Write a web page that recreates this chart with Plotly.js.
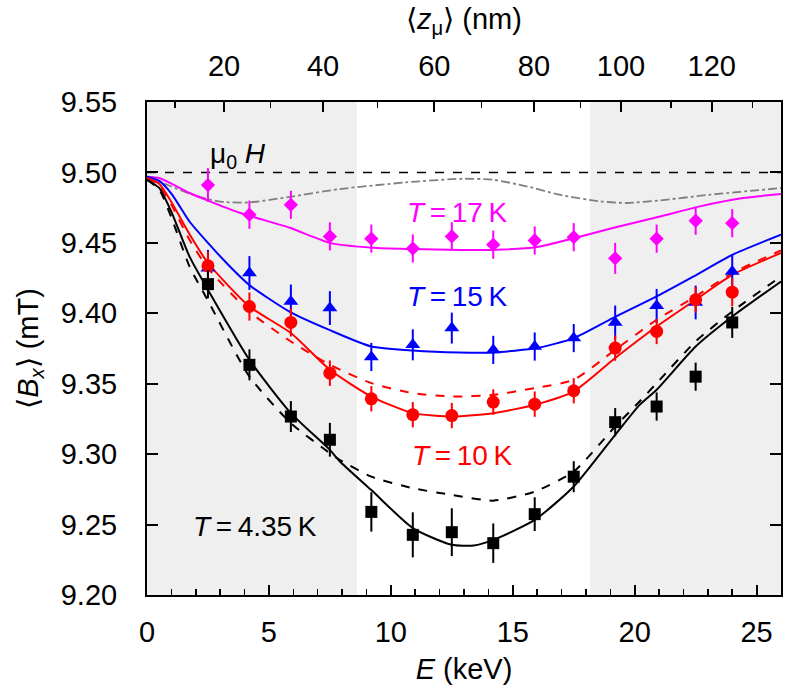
<!DOCTYPE html>
<html>
<head>
<meta charset="utf-8">
<script src="https://cdn.plot.ly/plotly-3.0.1.min.js"></script>
<style>html,body{margin:0;padding:0;background:#fff;}</style>
</head>
<body>
<div id="chart" style="width:788px;height:692px;"></div>
<script>
// ---- data: measured points ----
const energyPts = [2.5, 4.2, 5.9, 7.5, 9.2, 10.9, 12.5, 14.2, 15.9, 17.5, 19.2, 20.9, 22.5, 24.0];
const B_435K = [9.4207, 9.3634, 9.3267, 9.3102, 9.259, 9.2427, 9.2446, 9.2368, 9.2574, 9.284, 9.3227, 9.3338, 9.355, 9.3935];
const err_435K = [0.010, 0.011, 0.011, 0.012, 0.014, 0.016, 0.017, 0.014, 0.012, 0.011, 0.010, 0.010, 0.010, 0.011];
const B_10K = [9.4337, 9.4048, 9.3935, 9.3575, 9.3393, 9.328, 9.3274, 9.337, 9.3355, 9.345, 9.3753, 9.3871, 9.4096, 9.415];
const err_10K = [0.010, 0.010, 0.010, 0.009, 0.009, 0.009, 0.009, 0.009, 0.009, 0.009, 0.009, 0.009, 0.009, 0.010];
const B_15K = [9.432, 9.4286, 9.4084, 9.4037, 9.369, 9.3776, 9.3895, 9.374, 9.3764, 9.3824, 9.3935, 9.4053, 9.4077, 9.4297];
const err_15K = [0.013, 0.012, 0.012, 0.012, 0.010, 0.011, 0.011, 0.010, 0.010, 0.010, 0.012, 0.012, 0.012, 0.012];
const B_17K = [9.491, 9.470, 9.477, 9.4546, 9.453, 9.446, 9.4546, 9.4487, 9.4517, 9.454, 9.439, 9.453, 9.4657, 9.464];
const err_17K = [0.012, 0.010, 0.010, 0.010, 0.010, 0.010, 0.010, 0.010, 0.010, 0.010, 0.011, 0.010, 0.010, 0.010];

// ---- model curves ----
const E_17K_fit = [0, 0.5, 1.0, 1.75, 2.5, 3.8, 5.86, 7.5, 9.26, 10.9, 12.83, 14.18, 15.99, 17.54, 19.1, 21.04, 22.68, 24.44, 26];
const B_17K_fit = [9.497, 9.496, 9.492, 9.4854, 9.480, 9.4714, 9.4607, 9.45, 9.4465, 9.4456, 9.445, 9.445, 9.447, 9.4534, 9.4605, 9.4687, 9.4759, 9.4818, 9.4847];

const E_15K_fit = [0, 0.5, 1.0, 1.75, 2.5, 3.3, 4.2, 5.86, 7.5, 9.2, 10.9, 12.8, 14.2, 16.0, 17.5, 19.1, 20.9, 22.4, 24.0, 26];
const B_15K_fit = [9.497, 9.494, 9.485, 9.465, 9.450, 9.435, 9.420, 9.401, 9.388, 9.3764, 9.3736, 9.3722, 9.3722, 9.3753, 9.3824, 9.3966, 9.412, 9.426, 9.4415, 9.4558];

const E_10K_fit = [0, 0.5, 1.0, 1.75, 2.5, 4.2, 5.9, 7.5, 9.2, 10.9, 12.55, 14.2, 15.9, 17.5, 19.2, 20.9, 22.5, 24.0, 26];
const B_10K_fit = [9.496, 9.492, 9.479, 9.456, 9.4357, 9.4048, 9.386, 9.3599, 9.3409, 9.3291, 9.3267, 9.3291, 9.335, 9.3445, 9.3682, 9.3906, 9.4096, 9.4273, 9.4428];
const B_10K_alt = [9.496, 9.491, 9.477, 9.452, 9.432, 9.4012, 9.38, 9.3634, 9.3504, 9.3433, 9.3409, 9.3421, 9.3469, 9.3528, 9.3741, 9.3954, 9.412, 9.4285, 9.4446];

const E_435K_fit = [0, 0.5, 1.0, 1.75, 2.5, 4.2, 5.9, 7.5, 7.9, 9.2, 10.9, 12.5, 13.4, 14.2, 15.9, 17.5, 19.2, 20.2, 20.9, 22.5, 24.0, 26];
const B_435K_fit = [9.4948, 9.489, 9.472, 9.440, 9.4167, 9.367, 9.3291, 9.303, 9.295, 9.2745, 9.2475, 9.2356, 9.2351, 9.2391, 9.2533, 9.277, 9.3137, 9.335, 9.3457, 9.3764, 9.3977, 9.4226];
const E_435K_alt = [0, 0.5, 1.0, 1.75, 2.5, 4.2, 5.9, 7.5, 7.9, 9.2, 10.9, 12.5, 14.2, 15.9, 17.5, 19.2, 20.2, 20.9, 22.5, 24.0, 26];
const B_435K_alt = [9.4948, 9.488, 9.468, 9.433, 9.409, 9.3551, 9.322, 9.3007, 9.296, 9.284, 9.2758, 9.2711, 9.267, 9.2734, 9.2876, 9.3196, 9.3374, 9.3504, 9.38, 9.4013, 9.4261];

const E_ref = [0, 1.0, 1.75, 2.5, 3.15, 4.2, 5.8, 7.9, 10.6, 12.9, 14.2, 15.6, 16.9, 18.6, 19.7, 21.0, 23.1, 26];
const B_ref = [9.497, 9.490, 9.485, 9.481, 9.479, 9.4787, 9.4825, 9.4882, 9.4929, 9.4955, 9.4948, 9.490, 9.4842, 9.4794, 9.4783, 9.4801, 9.4842, 9.4889];

const appliedE = [0, 26];
const appliedB = [9.50, 9.50];

// ---- axes ----
const xMajor = [0, 5, 10, 15, 20, 25];
const depthMajorLabels = ['20', '40', '60', '80', '100', '120'];
const depthMajorE = [3.16, 7.22, 11.78, 15.87, 19.44, 23.16];
const depthMinorE = [1.16, 5.06, 9.45, 13.72, 17.78, 21.48, 24.83];
const shadedE = [[0, 8.6], [18.17, 26]];

const black = '#000000', red = '#ff0000', blue = '#0000ff', magenta = '#ff00ff';

function fit(x, y, color, dash, width) {
  return {x: x, y: y, type: 'scatter', mode: 'lines', hoverinfo: 'skip',
          line: {color: color, width: width || 2, dash: dash || 'solid', shape: 'spline', smoothing: 0.6}};
}
function pts(y, err, color, symbol, size) {
  return {x: energyPts, y: y, type: 'scatter', mode: 'markers',
          marker: {color: color, symbol: symbol, size: size, line: {width: 0}},
          error_y: {type: 'data', array: err, visible: true, thickness: 2, width: 0, color: color}};
}

const traces = [
  {x: appliedE, y: appliedB, type: 'scatter', mode: 'lines', line: {color: black, width: 1.6, dash: 'dash'}, hoverinfo: 'skip'},
  fit(E_ref, B_ref, '#808080', 'dashdot', 1.8),
  fit(E_17K_fit, B_17K_fit, magenta),
  fit(E_15K_fit, B_15K_fit, blue),
  fit(E_10K_fit, B_10K_alt, red, 'dash'),
  fit(E_10K_fit, B_10K_fit, red),
  fit(E_435K_alt, B_435K_alt, black, 'dash'),
  fit(E_435K_fit, B_435K_fit, black),
  pts(B_17K, err_17K, magenta, 'diamond', 11),
  pts(B_15K, err_15K, blue, 'triangle-up', 13),
  pts(B_10K, err_10K, red, 'circle', 13),
  pts(B_435K, err_435K, black, 'square', 12),
  {x: [0, 26], y: [9.2, 9.2], xaxis: 'x2', type: 'scatter', mode: 'lines', line: {width: 0}, hoverinfo: 'skip'}
];

const shapes = shadedE.map(r => ({type: 'rect', xref: 'x', yref: 'paper', x0: r[0], x1: r[1], y0: 0, y1: 1,
  fillcolor: '#efefef', line: {width: 0}, layer: 'below'}));

const tickFont = {family: 'Liberation Sans, Arial, sans-serif', size: 29, color: black};
const annFont = (c) => ({family: 'Liberation Sans, Arial, sans-serif', size: 28, color: c});

const layout = {
  width: 788, height: 692,
  margin: {l: 147, r: 7, t: 102, b: 97, pad: 0},
  paper_bgcolor: '#ffffff', plot_bgcolor: '#ffffff',
  font: {family: 'Liberation Sans, Arial, sans-serif', size: 29, color: black},
  showlegend: false,
  shapes: shapes,
  xaxis: {
    range: [0, 26], tickmode: 'array', tickvals: xMajor, ticks: 'inside', ticklen: 10, tickwidth: 2, tickcolor: black,
    minor: {dtick: 1, tick0: 0, ticks: 'inside', ticklen: 6, tickwidth: 1.6, tickcolor: black},
    showline: true, linewidth: 2, linecolor: black, mirror: false, zeroline: false, showgrid: false,
    tickfont: tickFont, ticklabelstandoff: 10,
    title: {text: '<i>E</i> (keV)', font: {size: 29}, standoff: 12}
  },
  xaxis2: {
    overlaying: 'x', side: 'top', range: [0, 26], tickmode: 'array', tickvals: depthMajorE, ticktext: depthMajorLabels,
    ticks: 'inside', ticklen: 10, tickwidth: 2, tickcolor: black,
    minor: {tickmode: 'array', tickvals: depthMinorE, ticks: 'inside', ticklen: 6, tickwidth: 1.6, tickcolor: black},
    showline: true, linewidth: 2, linecolor: black, zeroline: false, showgrid: false,
    tickfont: tickFont, ticklabelstandoff: 12,
    title: {text: '⟨<i>z</i><sub>μ</sub>⟩ (nm)', font: {size: 29}, standoff: 12}
  },
  yaxis: {
    range: [9.2, 9.55], dtick: 0.05, tick0: 9.2, tickformat: '.2f', ticks: 'inside', ticklen: 11, tickwidth: 2, tickcolor: black,
    showline: true, linewidth: 2, linecolor: black, mirror: 'ticks', zeroline: false, showgrid: false,
    tickfont: tickFont, ticklabelstandoff: 22,
    title: {text: '⟨<i>B</i><sub><i>x</i></sub>⟩ (mT)', font: {size: 29}, standoff: 14}
  },
  annotations: [
    {x: 2.5, y: 9.512, xref: 'x', yref: 'y', xanchor: 'left', yanchor: 'middle', showarrow: false,
     text: 'μ<sub>0</sub> <i>H</i>', font: annFont(black)},
    {x: 10.6, y: 9.4714, xref: 'x', yref: 'y', xanchor: 'left', yanchor: 'middle', showarrow: false,
     text: '<i>T</i>\u2009=\u200917\u2009K', font: annFont(magenta)},
    {x: 10.6, y: 9.4118, xref: 'x', yref: 'y', xanchor: 'left', yanchor: 'middle', showarrow: false,
     text: '<i>T</i>\u2009=\u200915\u2009K', font: annFont(blue)},
    {x: 10.8, y: 9.299, xref: 'x', yref: 'y', xanchor: 'left', yanchor: 'middle', showarrow: false,
     text: '<i>T</i>\u2009=\u200910\u2009K', font: annFont(red)},
    {x: 1.8, y: 9.2486, xref: 'x', yref: 'y', xanchor: 'left', yanchor: 'middle', showarrow: false,
     text: '<i>T</i>\u2009=\u20094.35\u2009K', font: annFont(black)}
  ]
};

Plotly.newPlot('chart', traces, layout, {displayModeBar: false, staticPlot: true});
</script>
</body>
</html>
